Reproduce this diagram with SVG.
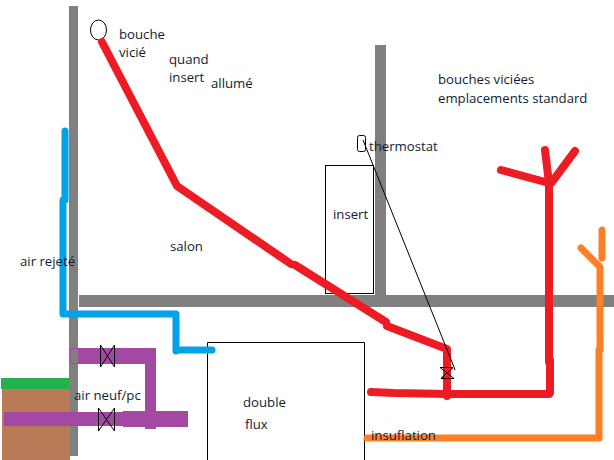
<svg xmlns="http://www.w3.org/2000/svg" width="614" height="460" viewBox="0 0 614 460">
<style>
text{font-family:"Open Sans","Noto Sans",sans-serif;font-size:13.2px;fill:#0f1c33}
.w{fill:#808080}
.p{fill:none;stroke-linecap:round;stroke-linejoin:round}
.r{stroke:#ed1c24;stroke-width:8}
.b{stroke:#00a2e8;stroke-width:7}
.o{stroke:#ff7f27;stroke-width:7}
.u{fill:#a349a4}
.k{fill:none;stroke:#000;stroke-width:1}
</style>
<rect width="614" height="460" fill="#fff"/>
<g id="walls">
<rect class="w" x="69" y="6" width="9" height="450"/>
<rect class="w" x="79" y="295" width="535" height="12"/>
<rect class="w" x="375" y="45" width="11" height="250"/>
</g>
<g id="ground">
<rect x="2" y="388" width="68" height="72" fill="#b97a57"/>
<rect x="1" y="378" width="68" height="11" fill="#22b14c"/>
</g>
<g id="insert"><rect class="k" x="325.500" y="165.500" width="48" height="128"/></g>
<g id="double-flux"><path class="k" d="M207.500 460V342.500H364.500V460"/></g>
<g id="bouche"><ellipse class="k" cx="98.500" cy="30" rx="8" ry="10"/></g>
<g id="thermostat"><rect class="k" x="357.500" y="135.500" width="8" height="16" rx="2"/></g>
<g id="connectors">
<path class="p r" d="M102 42L177 186L291 264M295 265L386 322M387 326L447 349V396M371 392L394 393L447 394H549M550 393V360M549 362V183L501 170M549 183L545 150M552 182L575 151"/>
<path class="p o" d="M367 438H599V350M600 350V267L581 248M602 230V258"/>
<path class="p b" d="M65 131V200M63 200V314H176V351M176 350H212"/>
<path d="M78 348H156V429H145V364H78Z" class="u"/>
<rect x="70.500" y="348.500" width="8" height="15" fill="none" stroke="#a349a4"/>
<rect class="u" x="4" y="412" width="119" height="14"/>
<rect class="u" x="123" y="411" width="65" height="16"/>
<path class="k" d="M363 140L454 367L455 370"/>
</g>
<g id="valves">
<path class="k" d="M100.500 345V367L114.500 345V367ZM98.500 408V431L114.500 408V431ZM440 367.500H453L441 378.500H454ZM453 367.500L441 378.500"/>
</g>
<g id="labels">
<text x="333" y="219">insert</text>
<text x="243" y="407">double</text><text x="245" y="429">flux</text>
<text x="119" y="39">bouche</text><text x="119" y="57">vicié</text>
<text x="369" y="151">thermostat</text>
<text x="169" y="64">quand</text><text x="169" y="82">insert</text><text x="211" y="88">allumé</text>
<text x="438" y="84">bouches viciées</text><text x="438" y="103">emplacements standard</text>
<text x="170" y="251">salon</text><text x="20" y="266">air rejeté</text>
<text x="74" y="400">air neuf/pc</text>
<text x="371" y="440">insuflation</text>
</g>
</svg>
